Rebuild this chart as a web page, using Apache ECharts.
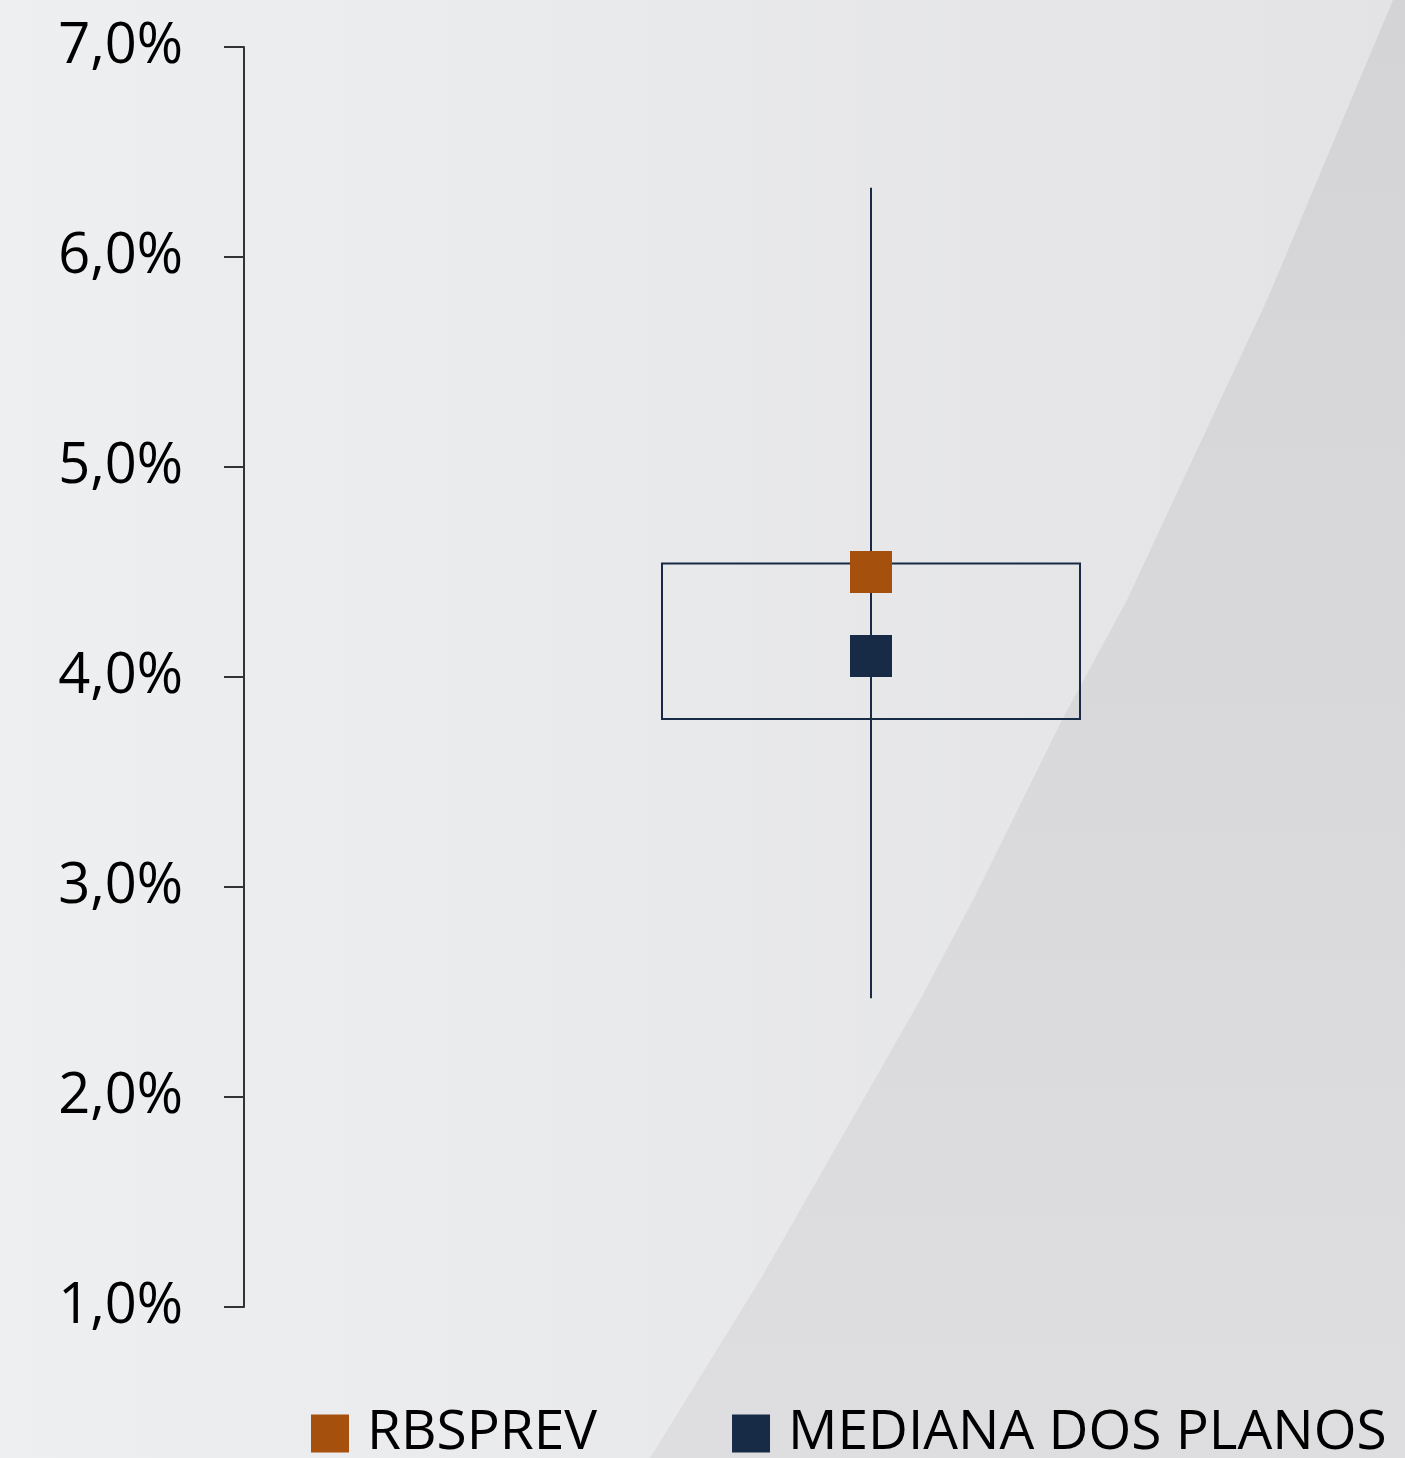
<!DOCTYPE html>
<html>
<head>
<meta charset="utf-8">
<title>Rentabilidade</title>
<script src="https://cdn.jsdelivr.net/npm/echarts@6/dist/echarts.min.js"></script>
<style>
  html, body { margin: 0; padding: 0; background: #ecedee; }
  #chart { width: 1405px; height: 1458px; }
</style>
</head>
<body>
<div id="chart"></div>
<script>
// dados (em %)
const categories = ['Planos'];
const whiskerLow = [2.47];
const boxLow = [3.80];
const boxHigh = [4.54];
const whiskerHigh = [6.33];
const rbsprev = [4.50];
const mediana = [4.10];
const legendNames = ['RBSPREV', 'MEDIANA DOS PLANOS'];

const NAVY = '#172b46';
const ORANGE = '#a5500c';

const chart = echarts.init(document.getElementById('chart'));

const rangeData = categories.map((c, i) => [i, whiskerLow[i], boxLow[i], boxHigh[i], whiskerHigh[i]]);

// fundo: faixa diagonal mais escura à direita
const wedge = [[1393, 0], [1330, 150], [1267, 300], [1197, 450], [1127, 600], [1063, 718],
  [973, 900], [920, 1000], [863, 1100], [760, 1280], [650, 1458], [1405, 1458], [1405, 0]];

const option = {
  animation: false,
  graphic: [
    {
      type: 'rect', z: -10, silent: true,
      shape: { x: 0, y: 0, width: 1405, height: 1458 },
      style: {
        fill: new echarts.graphic.LinearGradient(0, 0, 1, 0, [
          { offset: 0, color: '#eeeff0' },
          { offset: 1, color: '#e3e3e5' }
        ])
      }
    },
    {
      type: 'polygon', z: -9, silent: true,
      shape: { points: wedge },
      style: {
        fill: new echarts.graphic.LinearGradient(0, 0, 0, 1, [
          { offset: 0, color: '#d4d4d6' },
          { offset: 1, color: '#dedee0' }
        ])
      }
    }
  ],
  grid: { left: 337, right: 0, top: 47, bottom: 151 },
  legend: {
    data: legendNames,
    left: 311,
    top: 1406,
    padding: 0,
    icon: 'rect',
    itemWidth: 38,
    itemHeight: 38,
    itemGap: 135,
    textStyle: { fontFamily: 'Open Sans', fontSize: 55, color: '#000', padding: [0, 0, 0, 13] }
  },
  xAxis: {
    type: 'category',
    data: categories,
    show: false
  },
  yAxis: {
    type: 'value',
    min: 1,
    max: 7,
    interval: 1,
    offset: 93,
    axisLine: { show: true, lineStyle: { color: '#333', width: 2 } },
    axisTick: { show: true, length: 20, lineStyle: { color: '#333', width: 2 } },
    splitLine: { show: false },
    axisLabel: {
      margin: 61,
      fontFamily: 'Open Sans',
      fontSize: 56,
      color: '#000',
      formatter: v => v.toFixed(1).replace('.', ',') + '%'
    }
  },
  series: [
    {
      type: 'custom',
      data: rangeData,
      z: 1,
      renderItem: function (params, api) {
        const x = api.value(0);
        const pLow = api.coord([x, api.value(1)]);
        const pQ1 = api.coord([x, api.value(2)]);
        const pQ3 = api.coord([x, api.value(3)]);
        const pHigh = api.coord([x, api.value(4)]);
        const half = 209;
        return {
          type: 'group',
          children: [
            {
              type: 'line',
              shape: { x1: pLow[0], y1: pLow[1], x2: pHigh[0], y2: pHigh[1] },
              style: { stroke: NAVY, lineWidth: 2 }
            },
            {
              type: 'rect',
              shape: { x: pQ3[0] - half, y: pQ3[1], width: half * 2, height: pQ1[1] - pQ3[1] },
              style: { fill: 'transparent', stroke: NAVY, lineWidth: 2 }
            }
          ]
        };
      }
    },
    {
      name: legendNames[0],
      type: 'scatter',
      symbol: 'rect',
      symbolSize: 42,
      z: 3,
      itemStyle: { color: ORANGE, opacity: 1 },
      data: rbsprev
    },
    {
      name: legendNames[1],
      type: 'scatter',
      symbol: 'rect',
      symbolSize: 42,
      z: 3,
      itemStyle: { color: NAVY, opacity: 1 },
      data: mediana
    }
  ]
};

chart.setOption(option);
</script>
</body>
</html>
